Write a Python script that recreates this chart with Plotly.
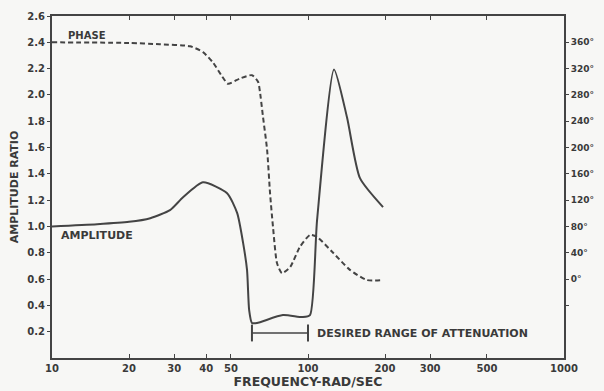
import plotly.graph_objects as go

# ---- data ----
amp_freq = [10, 15, 20, 24.2, 28.9, 32.5, 38.9, 48.3, 52.9, 55.8, 57.8, 58.9, 60.4, 63.2,
            79.8, 95.5, 101.8, 108.5, 126.4, 142, 159.6, 196.4]
amp_ratio = [1.0, 1.017, 1.035, 1.063, 1.124, 1.222, 1.336, 1.253, 1.101, 0.873, 0.668, 0.364,
             0.266, 0.266, 0.326, 0.311, 0.326, 1.048, 2.194, 1.83, 1.367, 1.147]

phase_freq = [10, 20, 26.4, 34.6, 38.9, 42.6, 46.2, 48.7, 54.2, 60.4, 63.8, 64.9, 66.7, 69.2,
              71.1, 73.0, 75.7, 79.1, 85.1, 93.0, 101.8, 108.5, 125.3, 145.8, 169.9, 196.4]
phase_deg = [360, 359, 357, 354, 345, 329, 308, 297, 305, 310, 300, 285, 247, 197,
             130, 79, 24, 9, 18, 49, 67, 64, 40, 14, -1.5, -1.5]

attenuation_range = [60.4, 100]
attenuation_level = 0.19

x_ticks = [10, 20, 30, 40, 50, 100, 200, 300, 500, 1000]
y_ticks = [0.2, 0.4, 0.6, 0.8, 1.0, 1.2, 1.4, 1.6, 1.8, 2.0, 2.2, 2.4, 2.6]
phase_ticks = [-40, 0, 40, 80, 120, 160, 200, 240, 280, 320, 360]
phase_tick_text = [""] + [f"{v}°" for v in phase_ticks[1:]]

INK = "#444444"
TXT = "#3a3a3a"
BG = "#f7f7f5"
FONT = dict(family="DejaVu Sans", size=10, color=TXT, weight="bold")

fig = go.Figure()
fig.add_trace(go.Scatter(x=amp_freq, y=amp_ratio, mode="lines",
                         line=dict(color=INK, width=2, shape="spline", smoothing=0.6),
                         showlegend=False, hoverinfo="skip"))
fig.add_trace(go.Scatter(x=phase_freq, y=phase_deg, mode="lines", yaxis="y2",
                         line=dict(color=INK, width=2, dash="5px,3px", shape="spline", smoothing=0.6),
                         showlegend=False, hoverinfo="skip"))
fig.add_trace(go.Scatter(x=attenuation_range, y=[attenuation_level] * 2, mode="lines+markers",
                         line=dict(color=INK, width=1.5),
                         marker=dict(symbol="line-ns", size=12, line=dict(color=INK, width=2)),
                         showlegend=False, hoverinfo="skip"))

fig.add_annotation(x=1.137, y=2.45, xref="x", yref="y", text="PHASE", showarrow=False,
                   font=dict(family="DejaVu Sans", size=10, color=TXT, weight="bold"))
fig.add_annotation(x=1.176, y=0.93, xref="x", yref="y", text="AMPLITUDE", showarrow=False,
                   font=dict(family="DejaVu Sans", size=11, color=TXT, weight="bold"))
fig.add_annotation(x=2.027, y=attenuation_level, xref="x", yref="y",
                   text="DESIRED RANGE OF ATTENUATION", showarrow=False, xanchor="left",
                   font=dict(family="DejaVu Sans", size=11, color=TXT, weight="bold"))

fig.update_layout(
    width=604, height=391,
    margin=dict(l=52, r=40, t=16, b=33, autoexpand=False),
    paper_bgcolor=BG, plot_bgcolor=BG,
    font=FONT,
    xaxis=dict(type="log", range=[1, 3], tickvals=x_ticks, ticktext=[str(v) for v in x_ticks],
               showgrid=False, zeroline=False, showline=True, linecolor=INK, linewidth=2,
               mirror="ticks", ticks="inside", ticklen=4, tickcolor=INK, automargin=False,
               title=dict(text="FREQUENCY-RAD/SEC", standoff=0,
                          font=dict(family="DejaVu Sans", size=12.5, color=TXT, weight="bold")),
               tickfont=FONT),
    yaxis=dict(range=[0, 2.6], tickvals=y_ticks, ticktext=[f"{v:.1f}" for v in y_ticks],
               showgrid=False, zeroline=False, showline=True, linecolor=INK, linewidth=2,
               ticks="outside", ticklen=3, tickcolor=INK, automargin=False,
               title=dict(text="AMPLITUDE RATIO", standoff=6,
                          font=dict(family="DejaVu Sans", size=11, color=TXT, weight="bold")),
               tickfont=FONT),
    yaxis2=dict(overlaying="y", side="right", range=[-120, 400], tickvals=phase_ticks,
                ticktext=phase_tick_text, showgrid=False, zeroline=False, showline=True,
                linecolor=INK, linewidth=2, ticks="outside", ticklen=3, tickcolor=INK,
                automargin=False, tickfont=dict(family="DejaVu Sans", size=9, color=TXT, weight="bold")),
)

fig.write_html("out.html", config={"displayModeBar": False},
               post_script="document.body.style.margin='0';document.body.style.background='%s';" % BG)
